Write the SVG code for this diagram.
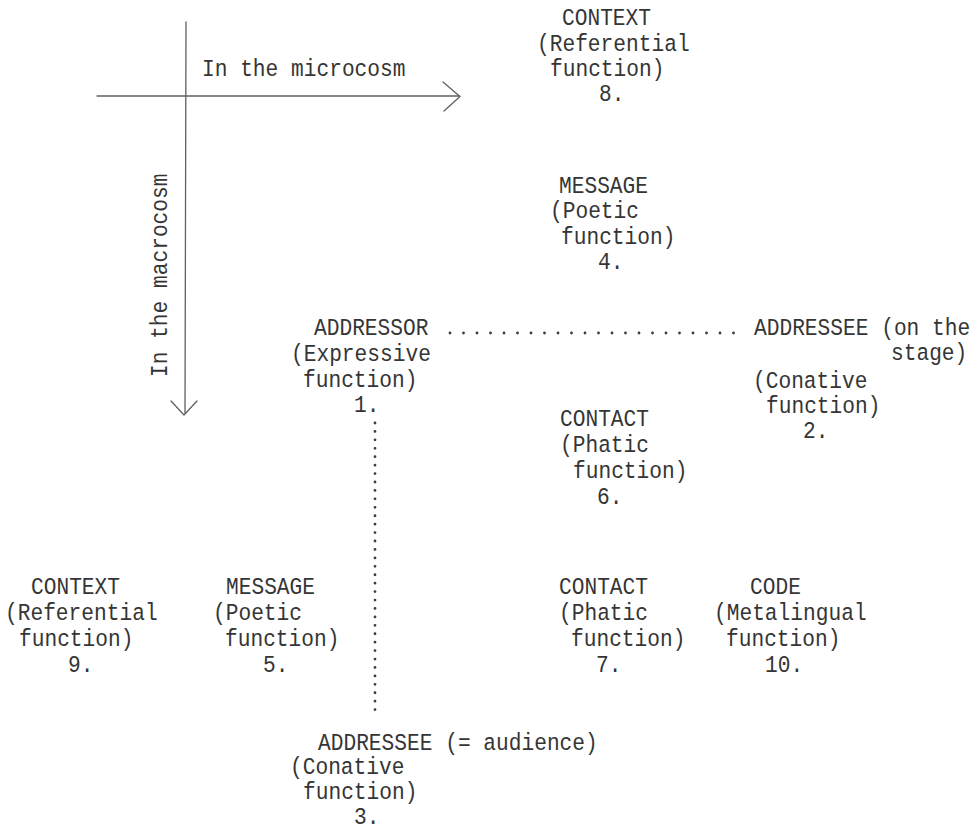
<svg xmlns="http://www.w3.org/2000/svg" width="974" height="832" viewBox="0 0 974 832">
  <style>
    .t { font-family: "Liberation Mono", "DejaVu Sans Mono", monospace; font-size: 21.2px; fill: #353535; }
    .axis { fill: none; stroke: #606060; stroke-width: 1.3; stroke-linecap: round; stroke-linejoin: round; }
    .dots { fill: none; stroke: #3c3c3c; stroke-width: 2.8; stroke-linecap: round; }
  </style>
  <rect width="974" height="832" fill="#ffffff"/>

  <!-- axes and dotted links -->
  <g id="connectors">
    <!-- microcosm axis (horizontal) -->
    <line class="axis" x1="97" y1="96" x2="459" y2="96"/>
    <polyline class="axis" points="443,82 460,96.5 444,111"/>
    <!-- macrocosm axis (vertical) -->
    <line class="axis" x1="186" y1="22" x2="185" y2="413"/>
    <polyline class="axis" points="171,401 184,415 197,401"/>
    <!-- addressor to addressee on stage -->
    <line class="dots" x1="450" y1="333" x2="734" y2="333" stroke-dasharray="0 13.5"/>
    <!-- addressor to audience -->
    <line class="dots" x1="375" y1="423" x2="375" y2="718" stroke-dasharray="0 8.43"/>
  </g>

  <!-- axis labels -->
  <g id="label-microcosm" transform="scale(1 1.12)">
    <text class="t" x="202" y="67.86">In the microcosm</text>
  </g>
  <g id="label-macrocosm">
    <text class="t" transform="translate(167 377) rotate(-90) scale(1 1.12)">In the macrocosm</text>
  </g>

  <!-- 8. context (referential) -->
  <g id="node-context-8" transform="scale(1 1.12)">
    <text class="t">
      <tspan x="562" y="22.32">CONTEXT</tspan>
      <tspan x="537" y="45.54">(Referential</tspan>
      <tspan x="550" y="67.86">function)</tspan>
      <tspan x="599" y="90.18">8.</tspan>
    </text>
  </g>

  <!-- 4. message (poetic) -->
  <g id="node-message-4" transform="scale(1 1.12)">
    <text class="t">
      <tspan x="559" y="172.32">MESSAGE</tspan>
      <tspan x="550" y="194.64">(Poetic</tspan>
      <tspan x="561" y="217.86">function)</tspan>
      <tspan x="598" y="240.18">4.</tspan>
    </text>
  </g>

  <!-- 1. addressor (expressive) -->
  <g id="node-addressor-1" transform="scale(1 1.12)">
    <text class="t">
      <tspan x="314" y="299.11">ADDRESSOR</tspan>
      <tspan x="291" y="322.32">(Expressive</tspan>
      <tspan x="303" y="345.54">function)</tspan>
      <tspan x="354" y="367.86">1.</tspan>
    </text>
  </g>

  <!-- 2. addressee on the stage (conative) -->
  <g id="node-addressee-2" transform="scale(1 1.12)">
    <text class="t">
      <tspan x="754" y="299.11">ADDRESSEE (on the</tspan>
      <tspan x="891" y="321.43">stage)</tspan>
      <tspan x="753" y="346.43">(Conative</tspan>
      <tspan x="766" y="368.75">function)</tspan>
      <tspan x="803" y="391.07">2.</tspan>
    </text>
  </g>

  <!-- 6. contact (phatic), upper -->
  <g id="node-contact-6" transform="scale(1 1.12)">
    <text class="t">
      <tspan x="560" y="380.36">CONTACT</tspan>
      <tspan x="560" y="403.57">(Phatic</tspan>
      <tspan x="573" y="426.79">function)</tspan>
      <tspan x="597" y="450">6.</tspan>
    </text>
  </g>

  <!-- 9. context (referential), lower -->
  <g id="node-context-9" transform="scale(1 1.12)">
    <text class="t">
      <tspan x="31" y="530.36">CONTEXT</tspan>
      <tspan x="5" y="553.57">(Referential</tspan>
      <tspan x="19" y="576.79">function)</tspan>
      <tspan x="68" y="600">9.</tspan>
    </text>
  </g>

  <!-- 5. message (poetic), lower -->
  <g id="node-message-5" transform="scale(1 1.12)">
    <text class="t">
      <tspan x="226" y="530.36">MESSAGE</tspan>
      <tspan x="213" y="553.57">(Poetic</tspan>
      <tspan x="225" y="576.79">function)</tspan>
      <tspan x="263" y="600">5.</tspan>
    </text>
  </g>

  <!-- 7. contact (phatic), lower -->
  <g id="node-contact-7" transform="scale(1 1.12)">
    <text class="t">
      <tspan x="559" y="530.36">CONTACT</tspan>
      <tspan x="559" y="553.57">(Phatic</tspan>
      <tspan x="571" y="576.79">function)</tspan>
      <tspan x="596" y="600">7.</tspan>
    </text>
  </g>

  <!-- 10. code (metalingual) -->
  <g id="node-code-10" transform="scale(1 1.12)">
    <text class="t">
      <tspan x="750" y="530.36">CODE</tspan>
      <tspan x="714" y="553.57">(Metalingual</tspan>
      <tspan x="726" y="576.79">function)</tspan>
      <tspan x="765" y="600">10.</tspan>
    </text>
  </g>

  <!-- 3. addressee = audience (conative) -->
  <g id="node-addressee-3" transform="scale(1 1.12)">
    <text class="t">
      <tspan x="318" y="669.2">ADDRESSEE (= audience)</tspan>
      <tspan x="290" y="691.52">(Conative</tspan>
      <tspan x="303" y="713.84">function)</tspan>
      <tspan x="354" y="736.16">3.</tspan>
    </text>
  </g>
</svg>
